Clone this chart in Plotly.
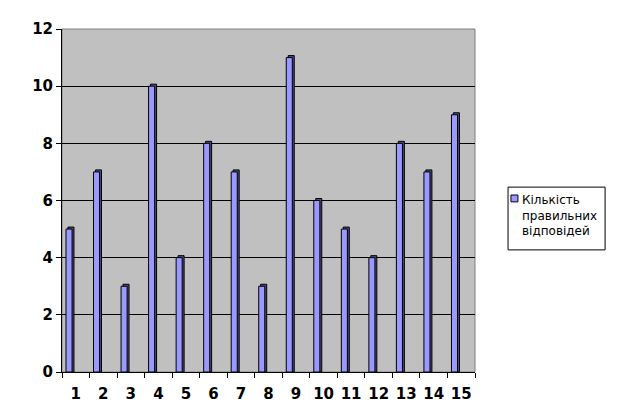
import plotly.graph_objects as go

categories = [str(i) for i in range(1, 16)]
values = [5, 7, 3, 10, 4, 8, 7, 3, 11, 6, 5, 4, 8, 7, 9]
series_name = "Кількість<br>правильних<br>відповідей"
y_ticks = [0, 2, 4, 6, 8, 10, 12]

BAR_COLOR = "#9999FF"
depth = 0.07  # 3D depth illusion (in value units)

fig = go.Figure()
# shadow / side face
fig.add_trace(go.Bar(
    x=categories, y=[v + depth for v in values],
    width=0.22, offset=-0.355 + 0.07,
    marker=dict(color="#4C4C80", line=dict(color="#000000", width=1)),
    showlegend=False, hoverinfo="skip",
))
fig.add_trace(go.Bar(
    x=categories, y=values, name=series_name,
    width=0.22, offset=-0.355, showlegend=False,
    marker=dict(color=BAR_COLOR, line=dict(color="#000000", width=1)),
))

fig.update_layout(
    width=610, height=407,
    margin=dict(l=54, r=143, t=21, b=43, autoexpand=False),
    paper_bgcolor="white",
    plot_bgcolor="#C0C0C0",
    barmode="overlay",
    font=dict(family="DejaVu Sans", color="black"),
    xaxis=dict(
        type="category", tickson="boundaries", ticks="outside", ticklen=5,
        tickcolor="black", showline=True, linecolor="black", linewidth=1,
        showgrid=False, tickangle=0, automargin=False, ticklabelstandoff=8,
        tickfont=dict(size=15, family="DejaVu Sans", weight="bold"),
    ),
    yaxis=dict(
        range=[0, 12], tickvals=y_ticks, ticks="outside", ticklen=5,
        tickcolor="black", showline=True, linecolor="black", linewidth=1,
        showgrid=True, gridcolor="black", gridwidth=1, zeroline=False,
        automargin=False,
        tickfont=dict(size=15, family="DejaVu Sans", weight="bold"),
    ),
    showlegend=False,
    shapes=[
        dict(type="rect", xref="paper", yref="paper", x0=0, y0=0, x1=1, y1=1,
             line=dict(color="#808080", width=1), layer="below"),
        # legend box
        dict(type="rect", xref="paper", yref="paper", x0=1.08, x1=1.315,
             y0=0.356, y1=0.539, line=dict(color="black", width=1),
             fillcolor="white"),
        # legend marker
        dict(type="rect", xref="paper", yref="paper", x0=1.087, x1=1.104,
             y0=0.496, y1=0.516, line=dict(color="black", width=1),
             fillcolor=BAR_COLOR),
    ],
    annotations=[
        dict(xref="paper", yref="paper", x=1.117, y=0.527, xanchor="left",
             yanchor="top", align="left", showarrow=False, text=series_name,
             font=dict(size=12, family="DejaVu Sans"), xshift=-3),
    ],
)

fig.write_html("out.html")
